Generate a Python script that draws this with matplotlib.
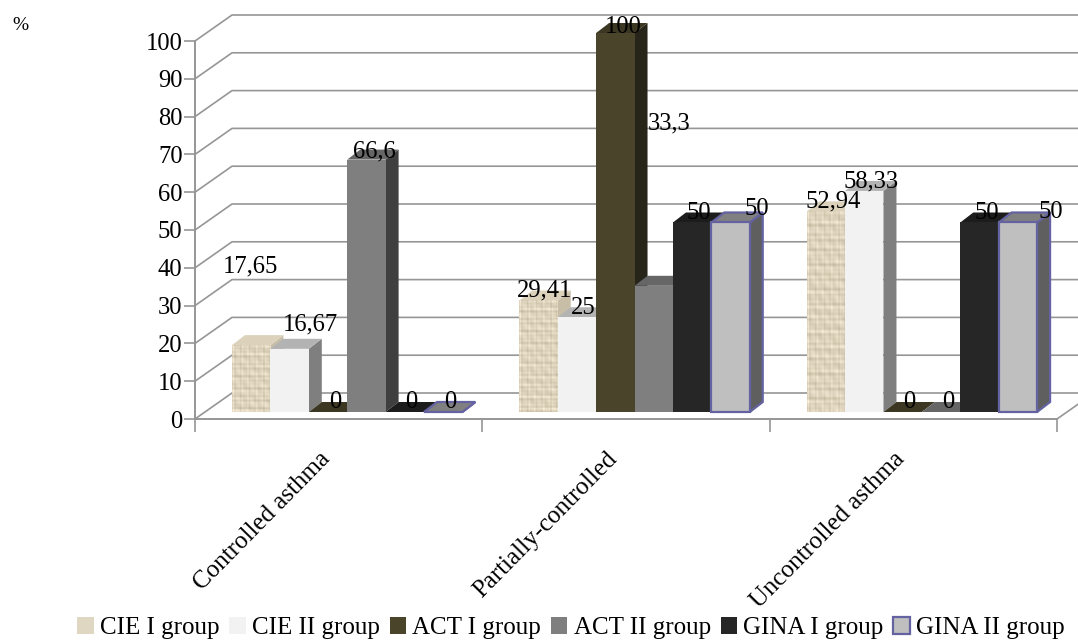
import numpy as np
import matplotlib.pyplot as plt
from matplotlib.patches import Patch, Polygon
plt.rcParams['font.family'] = ['Liberation Serif', 'DejaVu Serif']
plt.rcParams['figure.dpi'] = 100

categories = ['Controlled asthma', 'Partially-controlled', 'Uncontrolled asthma']
series = ['CIE I group', 'CIE II group', 'ACT I group', 'ACT II group', 'GINA I group', 'GINA II group']
cie_1 = [17.65, 29.41, 52.94]
cie_2 = [16.67, 25, 58.33]
act_1 = [0, 100, 0]
act_2 = [66.6, 33.3, 0]
gina_1 = [0, 50, 50]
gina_2 = [0, 50, 50]
y_ticks = list(range(0, 101, 10))

W, H = 1078, 641
L, R, B, T = 195, 1057, 419, 41
fig = plt.figure(figsize=(W / 100, H / 100))
ax = fig.add_axes([L / W, 1 - B / H, (R - L) / W, (B - T) / H])
ax.set_xlim(0, 3)
ax.set_ylim(0, 100)

px_x = (R - L) / 3
px_y = (B - T) / 100
GRID = '#969696'

# colores: frente, arriba, lado, borde
styles = [
    ('#e0d7c3', '#dcd2bc', '#c8bea8', None),
    ('#f2f2f2', '#b3b3b3', '#7f7f7f', None),
    ('#4a452a', '#3b3722', '#27251a', None),
    ('#7f7f7f', '#666666', '#3f3f3f', None),
    ('#262626', '#1c1c1c', '#111111', None),
    ('#bfbfbf', '#808080', '#5f5f5f', '#6462a0'),
]

# pared del fondo
wall_dx, wall_dy = 37 / px_x, 26 / px_y
for v in y_ticks:
    ax.plot([0, wall_dx, 3 + wall_dx], [v, v + wall_dy, v + wall_dy], color=GRID, lw=1.2, clip_on=False, zorder=1)
ax.plot([3, 3 + wall_dx], [0, wall_dy], color=GRID, lw=1.2, clip_on=False, zorder=1)

# textura del primer grupo
xx, yy = np.meshgrid(np.arange(40), np.arange(160))
tex = (0.45 * np.sin(xx * 1.7) * np.sin(xx * 0.41 + 1)
       + 0.45 * np.sin(yy * 1.3) * np.sin(yy * 0.29 + 2)
       + 0.35 * np.sin(xx * 0.23 + yy * 0.11) * np.sin(yy * 0.53 - xx * 0.31))
tex_rgb = np.array([0.87, 0.83, 0.74])[None, None, :] + 0.11 * tex[:, :, None] * np.array([1, 1, 1.1])
tex_rgb = np.clip(tex_rgb, 0, 1)

bar_w = 38.4 / px_x
start = 37 / px_x
base = 7 / px_y
dx, dy = 13 / px_x, 10 / px_y
values = [cie_1, cie_2, act_1, act_2, gina_1, gina_2]

for c in range(len(categories)):
    for s, vals in enumerate(values):
        v = vals[c]
        x0 = c + start + s * bar_w
        x1 = x0 + bar_w
        y0 = base
        y1 = base + v * 3.79 / px_y
        front, top, side, edge = styles[s]
        kw = dict(clip_on=False, zorder=3 + c * 10 + s)
        lw = 1.6 if edge else 0
        ec = edge if edge else 'none'
        ax.add_patch(Polygon([(x1, y0), (x1 + dx, y0 + dy), (x1 + dx, y1 + dy), (x1, y1)], fc=side, ec=ec, lw=lw, **kw))
        ax.add_patch(Polygon([(x0, y1), (x1, y1), (x1 + dx, y1 + dy), (x0 + dx, y1 + dy)], fc=top, ec=ec, lw=lw, **kw))
        if v > 0:
            if s == 0:
                rows = max(int(v * 3.79), 1)
                ax.imshow(tex_rgb[:rows], extent=[x0, x1, y0, y1], aspect='auto', clip_on=False,
                          interpolation='bilinear', zorder=3 + c * 10 + s)
            else:
                ax.add_patch(Polygon([(x0, y0), (x1, y0), (x1, y1), (x0, y1)], fc=front, ec=ec, lw=lw, **kw))
ax.set_xlim(0, 3)
ax.set_ylim(0, 100)

# etiquetas colocadas a mano, como en el original (centro en pixeles)
label_px = [
    [(250, 266), (545, 290), (833, 201)],
    [(310, 324), (583, 308), (871, 181)],
    [(335, 402), (623, 27), (909, 402)],
    [(374, 151), (669, 123), (948, 402)],
    [(411, 402), (699, 213), (987, 213)],
    [(450, 402), (757, 209), (1051, 212)],
]
for s, vals in enumerate(values):
    for c, v in enumerate(vals):
        px, py = label_px[s][c]
        ax.text((px - L) / px_x, (B - py) / px_y, f'{v:g}'.replace('.', ','), fontsize=17.7,
                ha='center', va='center', color='black', clip_on=False, zorder=100)

for side_name in ['top', 'right']:
    ax.spines[side_name].set_visible(False)
for side_name in ['left', 'bottom']:
    ax.spines[side_name].set_color(GRID)
    ax.spines[side_name].set_linewidth(1.4)
ax.patch.set_alpha(0)

ax.set_yticks(y_ticks)
ax.tick_params(axis='y', labelsize=17.7, length=8, color=GRID, width=1.2, pad=1)
ax.set_xticks([0, 1, 2, 3])
ax.set_xticklabels([])
ax.tick_params(axis='x', which='major', length=9, color=GRID, width=1.2)
ax.set_xticks(np.array([0.5, 1.5, 2.5]) - 20 / px_x, minor=True)
ax.set_xticklabels(categories, minor=True, rotation=45.5, ha='right', rotation_mode='anchor', fontsize=18)
ax.tick_params(axis='x', which='minor', length=0, pad=21)

fig.text(12 / W, 1 - 25 / H, '%', fontsize=14, va='center', ha='left')

handles = []
for s, name in enumerate(series):
    front, top, side, edge = styles[s]
    handles.append(Patch(facecolor=front, edgecolor=edge if edge else 'none', linewidth=1.6 if edge else 0, label=name))
fig.legend(handles=handles, ncol=6, loc='center', bbox_to_anchor=(571 / W, 1 - 628 / H), frameon=False, fontsize=18,
           handlelength=0.66, handleheight=0.66, handletextpad=0.25, columnspacing=0.39, borderpad=0, borderaxespad=0)

fig.savefig('out.png', dpi=100)
